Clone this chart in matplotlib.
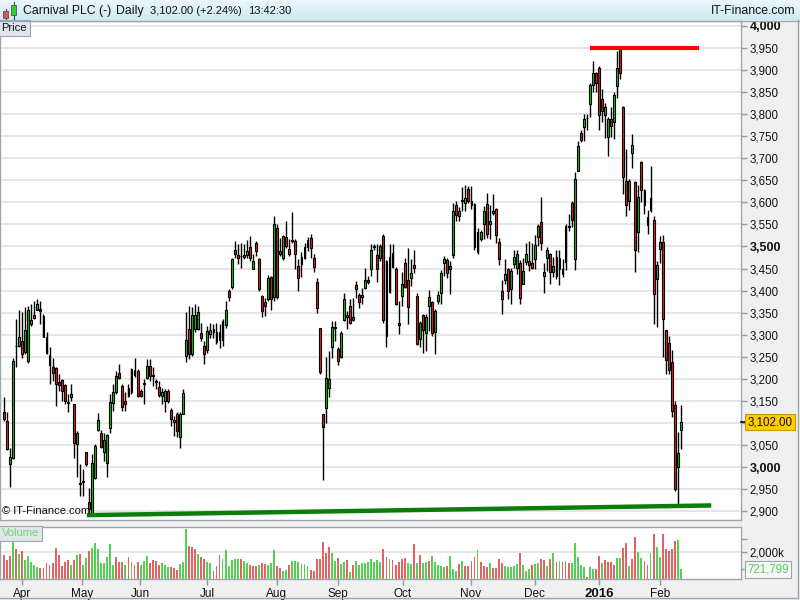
import matplotlib
matplotlib.use('Agg')
import matplotlib.pyplot as plt
import matplotlib.transforms as mtransforms
from matplotlib.patches import Rectangle
from matplotlib.colors import LinearSegmentedColormap
import numpy as np

plt.rcParams['font.family'] = ['Liberation Sans', 'DejaVu Sans']

# ---------------- data (daily candles, 24 Mar 2015 .. 9 Feb 2016) ----------------
opens = [3125,3105,3008,3021,3274,3275,3285,3260,3241,3333,3345,3356,3358,3343,3295,3255,3227,3224,3193,3198,
         3186,3146,3158,3142,3052,2963,2967,3033,2920,2895,2976,3085,3078,3033,3010,3089,3145,3169,3214,3184,
         3150,3160,3169,3220,3218,3173,3190,3202,3228,3208,3194,3182,3161,3150,3173,3130,3101,3120,3067,3121,
         3252,3313,3257,3312,3314,3303,3274,3265,3301,3305,3284,3306,3287,3321,3399,3407,3491,3480,3478,3476,
         3480,3498,3450,3508,3471,3388,3374,3380,3431,3386,3541,3489,3473,3521,3495,3514,3512,3456,3461,3499,
         3499,3520,3473,3419,3315,3120,3134,3179,3272,3316,3267,3250,3333,3339,3364,3333,3412,3389,3385,3405,
         3424,3448,3500,3480,3474,3523,3296,3477,3454,3450,3326,3388,3462,3423,3429,3459,3388,3290,3344,3303,
         3364,3373,3305,3376,3394,3463,3469,3450,3480,3593,3569,3604,3599,3631,3595,3597,3533,3518,3550,3597,
         3552,3576,3584,3510,3399,3425,3448,3403,3461,3452,3463,3416,3465,3467,3462,3471,3521,3555,3433,3473,
         3483,3442,3432,3474,3449,3465,3544,3598,3472,3670,3757,3770,3791,3823,3865,3893,3905,3834,3799,3749,
         3788,3782,3863,3948,3817,3649,3602,3712,3647,3533,3691,3627,3549,3582,3561,3427,3495,3511,3310,3282,
         3239,3141,3000,3084]
highs = [3159,3125,3044,3247,3336,3355,3351,3362,3366,3370,3376,3381,3377,3347,3305,3271,3248,3226,3211,3199,
         3188,3165,3188,3143,3082,3006,2995,3034,2953,3029,3052,3123,3085,3078,3074,3165,3188,3218,3233,3188,
         3169,3188,3224,3248,3222,3177,3199,3245,3245,3226,3199,3195,3180,3177,3177,3133,3116,3124,3124,3177,
         3351,3366,3363,3370,3366,3327,3286,3320,3327,3324,3327,3324,3335,3376,3403,3474,3512,3506,3508,3506,
         3514,3523,3482,3512,3474,3391,3384,3435,3433,3569,3550,3520,3527,3557,3516,3578,3516,3471,3488,3508,
         3521,3529,3482,3429,3316,3121,3250,3262,3331,3331,3271,3308,3395,3354,3380,3384,3422,3395,3406,3452,
         3433,3506,3505,3505,3506,3529,3469,3505,3505,3453,3376,3442,3474,3497,3471,3491,3394,3331,3346,3346,
         3401,3376,3358,3399,3446,3478,3474,3467,3599,3603,3589,3634,3639,3636,3636,3599,3542,3538,3591,3621,
         3595,3620,3587,3520,3425,3471,3452,3452,3493,3493,3469,3474,3508,3512,3508,3527,3550,3612,3463,3499,
         3486,3476,3491,3491,3472,3551,3574,3602,3668,3740,3763,3801,3801,3870,3921,3896,3908,3857,3825,3793,
         3816,3850,3944,3950,3819,3721,3653,3755,3649,3640,3693,3631,3582,3682,3570,3468,3523,3527,3310,3296,
         3266,3149,3080,3141]
lows = [3105,3038,2955,3018,3226,3271,3248,3256,3235,3320,3336,3355,3324,3294,3257,3188,3195,3138,3173,3150,
        3144,3124,3150,3021,2977,2934,2934,3002,2888,2890,2972,3082,3044,3014,2977,3078,3127,3165,3199,3127,
        3127,3158,3165,3203,3158,3158,3144,3199,3195,3184,3177,3158,3142,3124,3146,3093,3071,3067,3044,3120,
        3237,3245,3252,3305,3310,3286,3233,3259,3293,3293,3278,3269,3274,3316,3376,3403,3474,3460,3452,3471,
        3474,3467,3448,3478,3399,3339,3342,3376,3357,3376,3380,3478,3470,3497,3478,3508,3448,3399,3431,3471,
        3489,3474,3443,3350,3210,2970,3100,3158,3248,3286,3231,3248,3331,3312,3324,3330,3384,3360,3369,3403,
        3414,3433,3493,3420,3467,3327,3273,3395,3452,3367,3301,3365,3406,3324,3410,3440,3276,3271,3259,3263,
        3308,3297,3256,3369,3369,3433,3429,3393,3474,3557,3557,3581,3580,3599,3584,3493,3483,3512,3516,3520,
        3516,3572,3508,3459,3348,3414,3380,3369,3452,3437,3369,3414,3459,3444,3448,3448,3501,3493,3395,3444,
        3414,3431,3427,3412,3431,3446,3536,3544,3447,3670,3736,3740,3763,3793,3851,3850,3763,3782,3745,3706,
        3748,3744,3836,3880,3619,3570,3582,3677,3442,3487,3600,3574,3529,3578,3325,3317,3462,3250,3211,3211,
        3113,2946,2914,3040]
closes = [3108,3040,3023,3241,3275,3295,3256,3311,3356,3324,3338,3370,3353,3294,3258,3231,3214,3188,3186,3173,
          3149,3147,3165,3054,3077,2962,2968,3006,2904,3009,3048,3106,3046,3061,3073,3148,3170,3207,3201,3137,
          3144,3180,3222,3208,3161,3160,3189,3230,3207,3207,3193,3163,3170,3173,3150,3108,3106,3082,3121,3167,
          3288,3256,3344,3344,3351,3293,3256,3308,3310,3312,3306,3287,3331,3357,3386,3471,3483,3474,3479,3480,
          3489,3473,3468,3489,3403,3354,3364,3428,3382,3552,3386,3482,3523,3501,3482,3513,3483,3428,3476,3473,
          3514,3497,3454,3361,3216,3090,3201,3199,3318,3317,3241,3303,3382,3344,3326,3339,3403,3374,3391,3424,
          3420,3491,3499,3450,3502,3333,3467,3397,3485,3369,3321,3414,3409,3363,3439,3452,3278,3327,3310,3340,
          3385,3303,3354,3390,3439,3471,3439,3455,3580,3572,3581,3606,3610,3604,3603,3499,3488,3533,3581,3529,
          3557,3581,3526,3471,3382,3437,3399,3444,3476,3484,3384,3444,3482,3459,3452,3504,3547,3507,3442,3491,
          3442,3455,3477,3449,3438,3546,3546,3559,3653,3727,3742,3790,3792,3865,3894,3870,3797,3808,3817,3789,
          3774,3844,3905,3893,3657,3595,3649,3729,3493,3612,3628,3595,3566,3610,3393,3459,3511,3335,3243,3221,
          3128,2950,3032,3102]
volumes_k = [1778,1408,1704,2840,2198,1852,2075,1408,1704,1235,1037,914,790,840,1210,1037,1210,2272,1778,988,
             1284,1408,1037,1408,1778,1852,1037,1581,2075,2272,2692,2198,1210,1210,1655,2569,1037,1655,1284,1284,
             1037,1655,1284,1037,1284,1037,1334,1704,1161,1408,1334,1037,1161,1037,914,864,790,667,1111,1284,
             3680,2445,2346,2198,1852,1605,1457,1284,1210,617,963,1778,1457,2149,963,1408,1457,1457,1457,1334,
             1210,1037,988,963,1037,1210,1111,1037,1161,2149,988,790,617,667,1037,1334,1334,1284,1087,1087,
             988,667,617,1457,1457,2766,1902,2346,1902,1334,1531,1111,1284,1408,543,1037,1334,1037,1161,1210,
             1235,1457,1284,1408,1284,2223,1605,1457,1408,1037,1235,
             1457,1531,1210,1111,2593,1210,1778,1210,1235,1334,1704,1284,1037,988,914,963,1704,716,593,1087,
             1334,988,988,1334,1605,2149,1284,963,914,1210,790,790,1457,1161,988,914,914,963,1087,1951,
             1037,617,716,1037,1111,1161,1457,1408,963,1457,1951,1284,1334,1284,1334,1210,1210,2692,1655,1037,
             914,173,914,716,716,1729,1210,1408,1284,1235,1037,1581,1581,2322,2692,988,1457,3136,1976,1531,
             1334,1037,1902,3333,2396,1655,3310,2223,2100,2223,2840,2890,721.799]
volume_dir = ("rrrgrgrggg" "ggrrrrrrrr" "rrgrgrggrg" "gggggggrrr" "grgrrgggrr" "rrgggrrrgg"
              "grrrgrrgg" "rrrggggggr" "ggrrrgrrgg" "grrggrggg" "gggrrrrrrr" "ggrggrgrgg"
              "gggggggrrg" "rrr"
              "rrggrgrggr" "gggggrgggr" "grrrrgrrrg" "rrrrgggggr" "gggrggrrgr" "grgrrrgggg"
              "grggrrgrrr" "rggrrgrrgg" "rrgrggrrrr" "rgg")

month_labels = ['Apr', 'May', 'Jun', 'Jul', 'Aug', 'Sep', 'Oct', 'Nov', 'Dec', '2016', 'Feb']
month_start_idx = [5.9, 25.7, 44.8, 66.9, 89.9, 110.0, 131.4, 153.8, 174.9, 196.0, 216.0]

price_ticks = list(range(2900, 4001, 50))
bold_price_ticks = [3000, 3500, 4000]

resistance_line = ([193, 229], [3950, 3950])
support_line = ([27.3, 233], [2891, 2913])

last_price = 3102.00
last_volume_k = 721.799
title_parts = ['Carnival PLC (-)', 'Daily', '3,102.00 (+2.24%)', '13:42:30']

# ---------------- figure ----------------
W, H = 800, 600
fig = plt.figure(figsize=(W / 100, H / 100), dpi=100)
fig.patch.set_facecolor('#f0f0f0')

def fx(px):
    return px / W

def fy(py):
    return 1 - py / H

# header
hdr = fig.add_axes([0, fy(20), 1, 20 / H])
hdr.set_xlim(0, W)
hdr.set_ylim(20, 0)
hdr.axis('off')
cmap = LinearSegmentedColormap.from_list('hdr', ['#eaf7fb', '#cfe9f2'])
hdr.imshow(np.linspace(0, 1, 32).reshape(-1, 1), aspect='auto', cmap=cmap,
           extent=[0, W, 20, 0], zorder=0)
# small candle icon
hdr.plot([5.5, 5.5], [9, 19.5], color='#444444', lw=0.8, zorder=2)
hdr.add_patch(Rectangle((3, 11), 5, 7, fc='#e85050', ec='#555555', lw=0.6, zorder=3))
hdr.plot([13.5, 13.5], [2, 19], color='#444444', lw=0.8, zorder=2)
hdr.add_patch(Rectangle((11, 5), 5, 10, fc='#33cc33', ec='#555555', lw=0.6, zorder=3))
for xpos, txt, fs in zip([23, 116, 150, 248], title_parts, [8.8, 8.8, 8.0, 8.0]):
    hdr.text(xpos, 11, txt, fontsize=fs, va='center', ha='left', color='#111111')
hdr.text(795, 11, 'IT-Finance.com', fontsize=8.8, va='center', ha='right', color='#111111')
fig.add_artist(plt.Line2D([0, 1], [fy(20.5), fy(20.5)], color='#9aa8b0', lw=1))

green_c = '#12c412'
red_c = '#ee1b1b'

x = np.arange(len(closes))
o = np.array(opens, float)
c = np.array(closes, float)
hi = np.array(highs, float)
lo = np.array(lows, float)

# main price axes
ax = fig.add_axes([0, fy(520), fx(741), (520 - 21) / H])
ax.set_facecolor('white')
ax.set_xlim(-1.32, 242.8)
ax.set_ylim(2880, 4011)
ax.set_yticks(price_ticks)
ax.grid(axis='y', color='#e4e4e4', lw=1.3)
ax.set_axisbelow(True)
ax.set_xticks([])
ax.yaxis.tick_right()
# the label next to the last-price marker hides the tick label behind it
ax.set_yticklabels(['' if abs(t - last_price) < 25 else f'{t:,}' for t in price_ticks])
for lbl, t in zip(ax.get_yticklabels(), price_ticks):
    if t in bold_price_ticks:
        lbl.set_fontweight('bold')
        lbl.set_fontsize(9)
    else:
        lbl.set_fontsize(8.3)
ax.tick_params(axis='y', direction='out', length=4, width=1, color='#8e9aa2', pad=2,
               labelcolor='#111111')
for s in ax.spines.values():
    s.set_color('#9aa6ae')
    s.set_linewidth(1)

ax.vlines(x, lo, hi, color='black', lw=1.0, zorder=3)
body_bottom = np.minimum(o, c)
body_h = np.maximum(np.abs(c - o), 1.2)
cols = [green_c if cc >= oo else red_c for oo, cc in zip(o, c)]
ax.bar(x, body_h, bottom=body_bottom, width=0.62, color=cols, edgecolor='black',
       linewidth=0.8, zorder=4)

ax.plot(*resistance_line, color='#ff0000', lw=3, solid_capstyle='butt', zorder=5)
ax.plot(*support_line, color='#0a7d0a', lw=3.2, solid_capstyle='butt', zorder=5)

ax.text(0.003, 0.008, '© IT-Finance.com', transform=ax.transAxes, fontsize=8,
        ha='left', va='bottom', color='#111111', zorder=6)
ax.text(0.002, 0.996, 'Price', transform=ax.transAxes, fontsize=8, ha='left', va='top',
        color='#111111', zorder=6,
        bbox=dict(boxstyle='square,pad=0.25', fc='#dfe5ea', ec='#9aa6ae', lw=0.8))

tr = mtransforms.blended_transform_factory(ax.transAxes, ax.transData)
ax.plot([1.0, 1.0065], [last_price, last_price], transform=tr, color='black', lw=1.2,
        clip_on=False, zorder=6)
ax.text(1.0085, last_price, f'{last_price:,.2f}', transform=tr, fontsize=8.3, ha='left',
        va='center', color='#111111', clip_on=False, zorder=7,
        bbox=dict(boxstyle='square,pad=0.2', fc='#ffcc00', ec='#c89b00', lw=0.8))

# volume axes
vax = fig.add_axes([0, fy(579), fx(741), (579 - 527) / H])
vax.set_facecolor('white')
vax.set_xlim(-1.32, 242.8)
vax.set_ylim(0, 3852)
vax.axhline(2000, color='#e4e4e4', lw=1.3, zorder=0)
vcols = ['#55d055' if d == 'g' else '#e06464' for d in volume_dir]
vax.bar(x, volumes_k, width=0.62, color=vcols, linewidth=0, zorder=2)
vax.yaxis.tick_right()
vax.set_yticks([2000, 3000])
vax.set_yticklabels(['2,000k', ''])
vax.tick_params(axis='y', direction='out', length=4, width=1, color='#8e9aa2', pad=2,
                labelsize=8.3, labelcolor='#111111')
vax.set_xticks(month_start_idx)
vax.set_xticklabels(month_labels)
vax.tick_params(axis='x', direction='out', length=4, width=1, color='#8e9aa2', pad=2.5,
                labelsize=8.5, labelcolor='#111111')
for lbl in vax.get_xticklabels():
    if lbl.get_text() == '2016':
        lbl.set_fontweight('bold')
        lbl.set_fontsize(9.5)
for s in vax.spines.values():
    s.set_color('#9aa6ae')
    s.set_linewidth(1)
vax.text(0.002, 0.975, 'Volume', transform=vax.transAxes, fontsize=8, ha='left', va='top',
         color='#70d870', zorder=6,
         bbox=dict(boxstyle='square,pad=0.25', fc='#e0e6e9', ec='#9aa6ae', lw=0.8))
vtr = mtransforms.blended_transform_factory(vax.transAxes, vax.transData)
vax.plot([1.0, 1.0065], [last_volume_k, last_volume_k], transform=vtr, color='#55cc55',
         lw=1, clip_on=False)
vax.text(1.0085, last_volume_k, f'{last_volume_k * 1000:,.0f}', transform=vtr, fontsize=8.3,
         ha='left', va='center', color='#55cc55', clip_on=False,
         bbox=dict(boxstyle='square,pad=0.2', fc='#f7f7f7', ec='#9aa6ae', lw=0.8))

# outer frame lines
fig.add_artist(plt.Line2D([fx(797.5), fx(797.5)], [fy(20), fy(598)], color='#9aa6ae', lw=1))
fig.add_artist(plt.Line2D([0, fx(797.5)], [fy(597.5), fy(597.5)], color='#9aa6ae', lw=1))

fig.savefig('out.png', dpi=100, facecolor=fig.get_facecolor())
